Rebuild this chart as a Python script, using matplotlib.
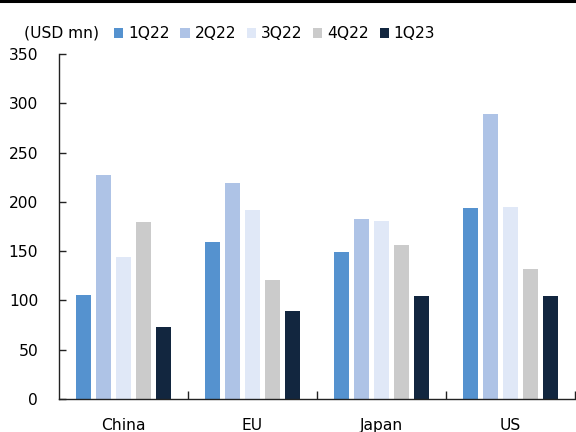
import numpy as np
import matplotlib
matplotlib.use("Agg")
import matplotlib.pyplot as plt
from matplotlib.lines import Line2D

plt.rcParams['font.family'] = ['DejaVu Sans']

regions = ["China", "EU", "Japan", "US"]
quarters = ["1Q22", "2Q22", "3Q22", "4Q22", "1Q23"]
q1_22 = [106, 159, 149, 194]
q2_22 = [227, 219, 183, 289]
q3_22 = [144, 192, 181, 195]
q4_22 = [180, 121, 156, 132]
q1_23 = [73, 89, 105, 104]
series = [q1_22, q2_22, q3_22, q4_22, q1_23]
colors = ["#5592CF", "#AEC3E6", "#E0E8F7", "#CBCBCB", "#12263F"]
y_ticks = [0, 50, 100, 150, 200, 250, 300, 350]

fs = 11.2

fig = plt.figure(figsize=(5.76, 4.32), dpi=100)
ax = fig.add_axes([59 / 576, 1 - 399 / 432, 516 / 576, 345 / 432])

x = np.arange(len(regions))
pitch = 0.155
width = 0.121
for i, (vals, col, lab) in enumerate(zip(series, colors, quarters)):
    ax.bar(x + (i - 2) * pitch, vals, width=width, color=col, label=lab,
           linewidth=0, zorder=2)

ax.set_xlim(-0.5, len(regions) - 0.5)
ax.set_ylim(0, 350)
ax.set_yticks(y_ticks)
ax.tick_params(axis='y', direction='in', length=5, width=1, labelsize=fs,
               pad=15, colors='#222222', labelcolor='black')

# category labels at centers, tick marks at group boundaries
ax.set_xticks(x)
ax.set_xticklabels(regions)
ax.tick_params(axis='x', which='major', length=0, labelsize=fs, pad=14)
ax.set_xticks(np.arange(0.5, len(regions), 1.0), minor=True)
ax.tick_params(axis='x', which='minor', direction='in', length=6, width=1,
               color='#222222')

for s in ['top', 'right']:
    ax.spines[s].set_visible(False)
for s in ['left', 'bottom']:
    ax.spines[s].set_color('#222222')
    ax.spines[s].set_linewidth(1)

fig.text(24 / 576, 1 - 33 / 432, "(USD mn)", fontsize=fs, va='center', ha='left')

leg = fig.legend(loc='center left', bbox_to_anchor=(114 / 576, 1 - 34 / 432),
                 ncol=5, frameon=False, fontsize=fs, handlelength=0.6,
                 handleheight=0.6, handletextpad=0.3, columnspacing=0.7,
                 borderaxespad=0, borderpad=0)

# rule across the top of the figure
fig.add_artist(Line2D([0, 1], [1 - 1 / 432, 1 - 1 / 432], transform=fig.transFigure,
                      color='black', linewidth=2.2))

fig.savefig("out.png", dpi=100)
